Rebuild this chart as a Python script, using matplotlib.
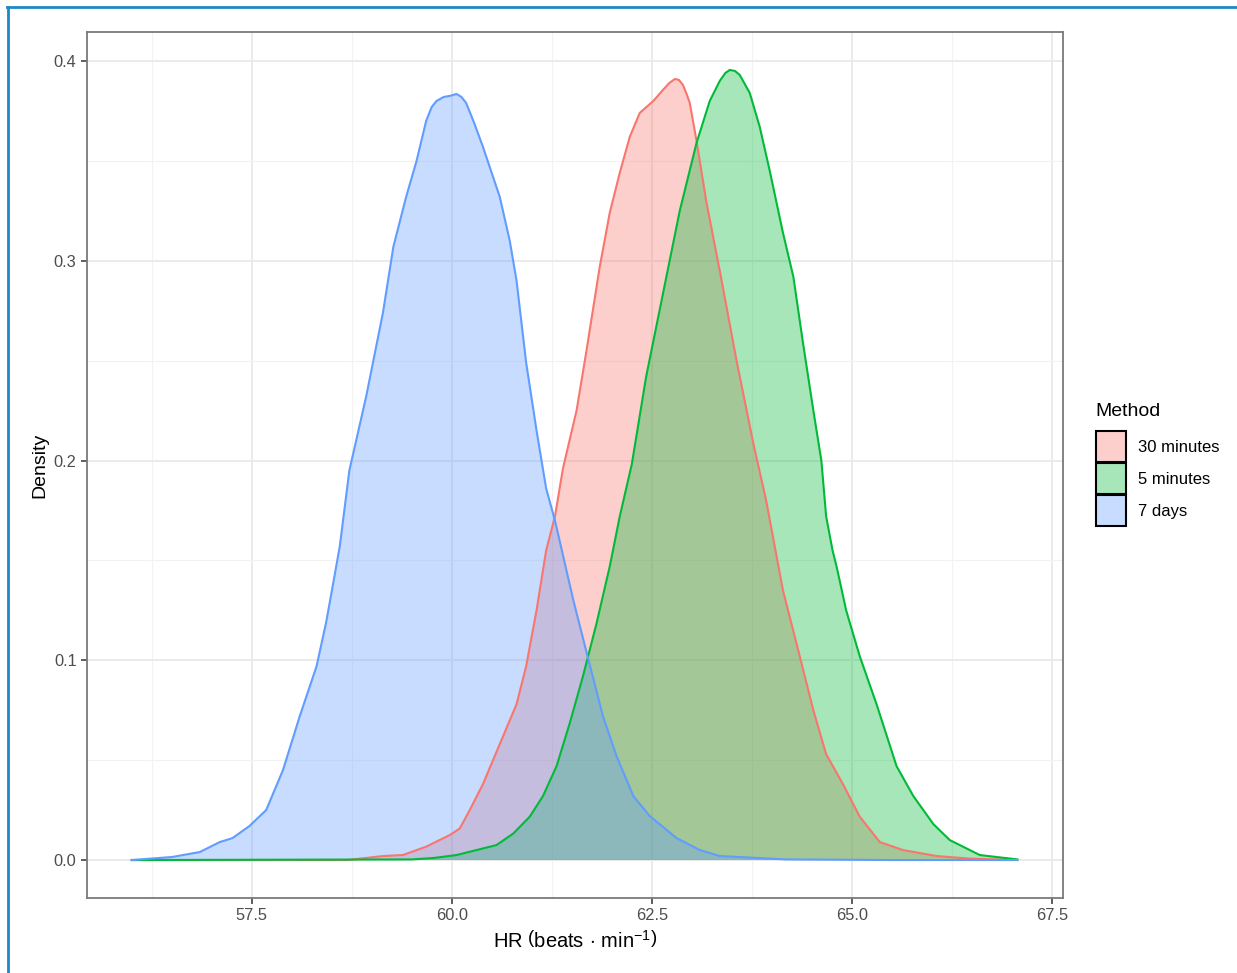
"""Density of HR by method, ggplot theme_bw look."""
import matplotlib
matplotlib.use("Agg")
import matplotlib.pyplot as plt
from matplotlib.colors import to_rgba
from matplotlib.patches import Patch
from matplotlib.lines import Line2D

plt.rcParams.update({
    "font.family": "Liberation Sans",
    "mathtext.fontset": "custom",
    "mathtext.rm": "Liberation Sans",
    "mathtext.it": "Liberation Sans:italic",
})

methods = ["30 minutes", "5 minutes", "7 days"]
line_colors = ["#F8766D", "#00BA38", "#619CFF"]

x_30min = [56.0, 58.7, 59.14, 59.39, 59.68, 59.975, 60.1, 60.225, 60.39, 60.6,
           60.81, 60.93, 61.06, 61.18, 61.29, 61.39, 61.56, 61.68, 61.85, 61.975,
           62.1, 62.225, 62.35, 62.52, 62.64, 62.72, 62.79, 62.84, 62.89, 62.94,
           62.975, 63.06, 63.18, 63.35, 63.56, 63.77, 63.93, 64.14, 64.35, 64.52,
           64.68, 64.89, 65.1, 65.35, 65.64, 66.06, 66.475, 67.07]
y_30min = [0.0, 0.0, 0.002, 0.0025, 0.0067, 0.0125, 0.0158, 0.025, 0.038, 0.058,
           0.078, 0.097, 0.125, 0.155, 0.172, 0.196, 0.225, 0.254, 0.297, 0.324,
           0.344, 0.362, 0.374, 0.380, 0.3855, 0.389, 0.391, 0.3905, 0.388, 0.383,
           0.379, 0.360, 0.330, 0.295, 0.250, 0.2085, 0.180, 0.135, 0.102, 0.075,
           0.053, 0.038, 0.0217, 0.009, 0.005, 0.002, 0.0007, 0.0]

x_5min = [56.0, 59.5, 59.77, 60.06, 60.31, 60.56, 60.77, 60.975, 61.14, 61.31,
          61.475, 61.64, 61.81, 61.975, 62.1, 62.25, 62.43, 62.64, 62.85, 63.06,
          63.225, 63.35, 63.42, 63.475, 63.54, 63.6, 63.725, 63.85, 63.975, 64.14,
          64.27, 64.39, 64.52, 64.62, 64.68, 64.76, 64.81, 64.93, 65.1, 65.31,
          65.56, 65.77, 66.02, 66.225, 66.39, 66.6, 67.07]
y_5min = [0.0, 0.0003, 0.001, 0.0025, 0.005, 0.0075, 0.0133, 0.0217, 0.032, 0.047,
          0.0685, 0.092, 0.1185, 0.147, 0.172, 0.198, 0.242, 0.2835, 0.325, 0.359,
          0.380, 0.390, 0.394, 0.3955, 0.395, 0.393, 0.384, 0.367, 0.345, 0.314,
          0.292, 0.259, 0.225, 0.200, 0.172, 0.155, 0.147, 0.125, 0.102, 0.078,
          0.047, 0.032, 0.018, 0.010, 0.0067, 0.0025, 0.0003]

x_7days = [56.0, 56.5, 56.85, 57.1, 57.26, 57.47, 57.68, 57.89, 58.1, 58.31,
           58.43, 58.52, 58.6, 58.72, 58.93, 59.14, 59.27, 59.43, 59.56, 59.68,
           59.75, 59.81, 59.9, 59.975, 60.06, 60.12, 60.18, 60.28, 60.39, 60.6,
           60.725, 60.81, 60.93, 61.06, 61.18, 61.29, 61.52, 61.72, 61.89, 62.06,
           62.27, 62.475, 62.81, 63.1, 63.35, 64.18, 65.5, 67.07]
y_7days = [0.0, 0.0015, 0.004, 0.009, 0.011, 0.017, 0.025, 0.045, 0.072, 0.097,
           0.119, 0.139, 0.157, 0.195, 0.232, 0.274, 0.307, 0.332, 0.350, 0.370,
           0.377, 0.380, 0.382, 0.3825, 0.3835, 0.382, 0.379, 0.369, 0.357, 0.332,
           0.310, 0.290, 0.249, 0.215, 0.186, 0.170, 0.130, 0.0985, 0.072, 0.052,
           0.032, 0.022, 0.011, 0.005, 0.002, 0.0003, 0.0, 0.0]

x_major = [57.5, 60.0, 62.5, 65.0, 67.5]
x_minor = [56.25, 58.75, 61.25, 63.75, 66.25]
y_major = [0.0, 0.1, 0.2, 0.3, 0.4]
y_minor = [0.05, 0.15, 0.25, 0.35]

series = [(x_30min, y_30min), (x_5min, y_5min), (x_7days, y_7days)]

fig = plt.figure(figsize=(12.37, 9.73), dpi=100)
ax = fig.add_axes([0.0703, 0.0771, 0.789, 0.890])

for (xs, ys), col in zip(series, line_colors):
    ax.fill_between(xs, ys, 0, facecolor=col, alpha=0.35, linewidth=0)
    ax.plot(xs, ys, color=col, linewidth=1.5, solid_joinstyle="round")

ax.set_xlim(55.44, 67.64)
ax.set_ylim(-0.019, 0.4145)
ax.set_xticks(x_major)
ax.set_xticks(x_minor, minor=True)
ax.set_yticks(y_major)
ax.set_yticks(y_minor, minor=True)
ax.set_xticklabels([f"{v:.1f}" for v in x_major])
ax.set_yticklabels([f"{v:.1f}" for v in y_major])
ax.grid(which="major", color="#EBEBEB", linewidth=1.4)
ax.grid(which="minor", color="#F2F2F2", linewidth=0.8)
ax.set_axisbelow(True)
ax.tick_params(which="major", length=4.5, width=1.1, color="#333333",
               labelsize=11.8, labelcolor="#4D4D4D", pad=3)
ax.tick_params(which="minor", length=0)
for sp in ax.spines.values():
    sp.set_color("#7A7A7A")
    sp.set_linewidth(1.3)

ax.set_xlabel(r"HR$\ \left(\mathrm{beats}\,\cdot\,\mathrm{min}^{-1}\right)$",
              fontsize=14.5, labelpad=5)
ax.set_ylabel("Density", fontsize=14, labelpad=4)

# legend: title as separate text, keys stacked below
fig.text(1095 / 1237, 1 - 412 / 973, "Method", fontsize=14, ha="left", va="center")
handles = [Patch(facecolor=to_rgba(c, 0.35), edgecolor="black", linewidth=1.5)
           for c in line_colors]
fig.legend(handles, methods, loc="upper left",
           bbox_to_anchor=(1096 / 1237, 1 - 431 / 973), frameon=False,
           fontsize=12, handlelength=1.8, handleheight=2.5, labelspacing=0.05,
           handletextpad=0.75, borderaxespad=0, borderpad=0)

# blue frame on top and left edges
fig.add_artist(Line2D([0.0057, 1.0], [0.9923, 0.9923], transform=fig.transFigure,
                      color="#1E88C4", linewidth=2))
fig.add_artist(Line2D([0.0065, 0.0065], [0.0, 0.993], transform=fig.transFigure,
                      color="#1E88C4", linewidth=2))

fig.savefig("out.png", dpi=100)
